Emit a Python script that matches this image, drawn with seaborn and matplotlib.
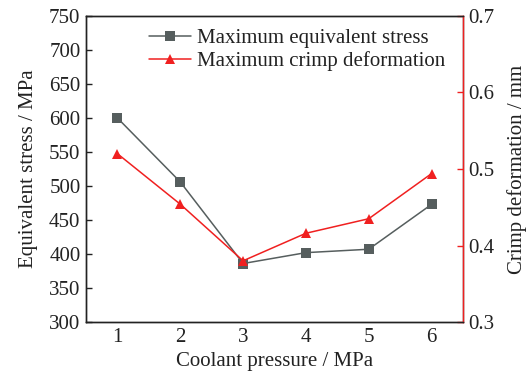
import matplotlib
matplotlib.use("Agg")
import matplotlib.pyplot as plt
import seaborn as sns
import pandas as pd

sns.set_theme(style="white")
plt.rcParams["font.family"] = ["Liberation Serif", "DejaVu Serif"]

pressure = [1, 2, 3, 4, 5, 6]
stress = [600, 506, 386, 402, 407, 473]
deformation = [0.520, 0.454, 0.380, 0.416, 0.435, 0.494]

df = pd.DataFrame({"pressure": pressure, "stress": stress, "deformation": deformation})

gray = "#565e5e"
red = "#f02020"
ink = "#222222"

fig = plt.figure(figsize=(5.29, 3.72), dpi=100)
ax = fig.add_axes([0.1626, 0.1344, 0.7126, 0.8226])
ax2 = ax.twinx()

sns.lineplot(data=df, x="pressure", y="stress", ax=ax, color=gray, marker="s",
             markersize=6.5, markeredgewidth=0, linewidth=1.1,
             label="Maximum equivalent stress", legend=False)
sns.lineplot(data=df, x="pressure", y="deformation", ax=ax2, color=red, marker="^",
             markersize=7, markeredgewidth=0, linewidth=1.1,
             label="Maximum crimp deformation", legend=False)

ax.set_xlim(0.5, 6.5)
ax.set_ylim(300, 750)
ax2.set_ylim(0.3, 0.7)
ax.set_xticks(pressure)
ax.set_yticks(range(300, 751, 50))
ax2.set_yticks([0.3, 0.4, 0.5, 0.6, 0.7])

fs = 15
ax.set_xlabel("Coolant pressure / MPa", fontsize=fs, color=ink, labelpad=4)
ax.set_ylabel("Equivalent stress / MPa", fontsize=fs, color=ink, labelpad=8)
ax2.set_ylabel("Crimp deformation / mm", fontsize=fs, color=ink, labelpad=9)

for a in (ax, ax2):
    a.tick_params(direction="in", length=4, width=1, labelsize=fs, colors=ink, pad=4)
    for s in a.spines.values():
        s.set_color(ink)
        s.set_linewidth(1.0)
    a.grid(False)
ax2.tick_params(axis="y", colors=red, labelcolor=ink)
ax2.spines["right"].set_color(red)
ax.tick_params(axis="x", top=False)
ax.tick_params(axis="y", right=False)

h1, l1 = ax.get_legend_handles_labels()
h2, l2 = ax2.get_legend_handles_labels()
ax.legend(h1 + h2, l1 + l2, loc="upper left", bbox_to_anchor=(0.135, 1.0), frameon=False,
          fontsize=fs, handlelength=2.0, handletextpad=0.3, labelspacing=0.15,
          borderaxespad=0.2, labelcolor=ink)

fig.savefig("out.png", dpi=100)
